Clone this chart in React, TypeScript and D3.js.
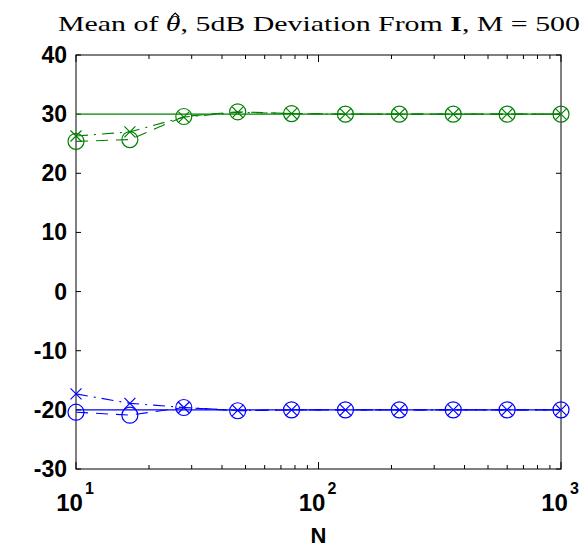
import React, { useEffect, useRef } from 'react';
import * as d3 from 'd3';

// sample sizes (log spaced)
const nValues = [10, 16.68, 27.83, 46.42, 77.43, 129.15, 215.44, 359.38, 599.48, 1000];

const trueHigh = 30;
const trueLow = -20;

const greenCircle = [25.4, 25.7, 29.6, 30.4, 30.1, 30.0, 30.0, 30.0, 30.0, 30.0];
const greenCross = [26.3, 27.0, 29.5, 30.3, 30.1, 30.0, 30.0, 30.0, 30.0, 30.0];
const blueCircle = [-20.4, -20.9, -19.6, -20.15, -20.0, -20.0, -20.0, -20.0, -20.0, -20.0];
const blueCross = [-17.3, -18.9, -19.6, -20.1, -20.0, -20.0, -20.0, -20.0, -20.0, -20.0];

const yTicks = [-30, -20, -10, 0, 10, 20, 30, 40];
const xMajor = [10, 100, 1000];

const App = () => {
  const svgRef = useRef<SVGSVGElement>(null);

  useEffect(() => {
    const svg = d3.select(svgRef.current);
    svg.selectAll('*').remove();

    const width = 588;
    const height = 549;
    const margin = { top: 55, right: 27, bottom: 80, left: 76 };
    const w = width - margin.left - margin.right;
    const h = height - margin.top - margin.bottom;

    svg.attr('width', width).attr('height', height);
    const g = svg.append('g').attr('transform', `translate(${margin.left},${margin.top})`);

    const x = d3.scaleLog().domain([10, 1000]).range([0, w]);
    const y = d3.scaleLinear().domain([-30, 40]).range([h, 0]);

    const green = '#008000';
    const blue = '#0000ff';

    // frame
    g.append('rect')
      .attr('width', w).attr('height', h)
      .attr('fill', 'none').attr('stroke', '#000').attr('stroke-width', 1);

    // minor + major x ticks, top and bottom, inward
    const minor: number[] = [];
    [10, 100].forEach(d => { for (let k = 2; k <= 9; k++) minor.push(d * k); });
    minor.forEach(v => {
      g.append('line').attr('x1', x(v)).attr('x2', x(v)).attr('y1', h).attr('y2', h - 4).attr('stroke', '#000');
      g.append('line').attr('x1', x(v)).attr('x2', x(v)).attr('y1', 0).attr('y2', 4).attr('stroke', '#000');
    });
    xMajor.forEach(v => {
      g.append('line').attr('x1', x(v)).attr('x2', x(v)).attr('y1', h).attr('y2', h - 7).attr('stroke', '#000');
      g.append('line').attr('x1', x(v)).attr('x2', x(v)).attr('y1', 0).attr('y2', 7).attr('stroke', '#000');
    });

    yTicks.forEach(v => {
      g.append('line').attr('x1', 0).attr('x2', 5).attr('y1', y(v)).attr('y2', y(v)).attr('stroke', '#000');
      g.append('line').attr('x1', w).attr('x2', w - 5).attr('y1', y(v)).attr('y2', y(v)).attr('stroke', '#000');
    });

    const font = 'Liberation Sans, Arial, sans-serif';

    g.selectAll('.ylab')
      .data(yTicks)
      .enter()
      .append('text')
      .attr('x', -9)
      .attr('y', d => y(d) + 8)
      .attr('text-anchor', 'end')
      .style('font-family', font)
      .style('font-weight', 'bold')
      .style('font-size', '23px')
      .text(d => d);

    xMajor.forEach(v => {
      const t = g.append('text')
        .attr('x', x(v) - 1)
        .attr('y', h + 42)
        .attr('text-anchor', 'middle')
        .style('font-family', font)
        .style('font-weight', 'bold')
        .style('font-size', '24px');
      t.append('tspan').text('10');
      t.append('tspan').attr('dx', 2).attr('dy', -17).style('font-size', '16px').text(String(Math.round(Math.log10(v))));
    });

    g.append('text')
      .attr('x', w / 2)
      .attr('y', h + 74)
      .attr('text-anchor', 'middle')
      .style('font-family', font)
      .style('font-weight', 'bold')
      .style('font-size', '22px')
      .text('N');

    // title
    const title = svg.append('text')
      .attr('x', 58)
      .attr('y', 31)
      .attr('textLength', 522)
      .attr('lengthAdjust', 'spacingAndGlyphs')
      .style('font-family', 'Liberation Serif, serif')
      .style('font-size', '21px');
    title.append('tspan').text('Mean of ');
    title.append('tspan').style('font-style', 'italic').text('θ');
    title.append('tspan').text(', 5dB Deviation From ');
    title.append('tspan').style('font-weight', 'bold').text('I');
    title.append('tspan').text(', M = 500');

    // hat over theta
    const tn = title.node() as SVGTextElement;
    const p0 = tn.getStartPositionOfChar(8);
    const p1 = tn.getEndPositionOfChar(8);
    const hx = (p0.x + p1.x) / 2 + 2;
    svg.append('path')
      .attr('d', `M${hx - 4},${17}L${hx},${13}L${hx + 4},${17}`)
      .attr('fill', 'none')
      .attr('stroke', '#000')
      .attr('stroke-width', 1.1);

    const line = d3.line<number>()
      .x((_, i) => x(nValues[i]))
      .y(d => y(d));

    const plot = g.append('g');

    const drawSeries = (vals: number[], color: string, dash: string | null, marker: 'o' | 'x' | null) => {
      plot.append('path')
        .datum(vals)
        .attr('d', line)
        .attr('fill', 'none')
        .attr('stroke', color)
        .attr('stroke-width', 1.1)
        .attr('stroke-dasharray', dash);
      if (marker === 'o') {
        plot.selectAll(null)
          .data(vals)
          .enter()
          .append('circle')
          .attr('cx', (_, i) => x(nValues[i]))
          .attr('cy', d => y(d))
          .attr('r', 8)
          .attr('fill', 'none')
          .attr('stroke', color)
          .attr('stroke-width', 1.2);
      } else if (marker === 'x') {
        const s = 5.5;
        vals.forEach((d, i) => {
          const cx = x(nValues[i]);
          const cy = y(d);
          plot.append('path')
            .attr('d', `M${cx - s},${cy - s}L${cx + s},${cy + s}M${cx - s},${cy + s}L${cx + s},${cy - s}`)
            .attr('stroke', color)
            .attr('stroke-width', 1.2);
        });
      }
    };

    drawSeries(nValues.map(() => trueHigh), green, null, null);
    drawSeries(greenCircle, green, '12,8', 'o');
    drawSeries(greenCross, green, '12,6,2,6', 'x');
    drawSeries(nValues.map(() => trueLow), blue, null, null);
    drawSeries(blueCircle, blue, '12,8', 'o');
    drawSeries(blueCross, blue, '12,6,2,6', 'x');
  }, []);

  return (
    <svg ref={svgRef} style={{ position: 'absolute', left: 0, top: 0, background: '#fff' }}></svg>
  );
};

export default App;
